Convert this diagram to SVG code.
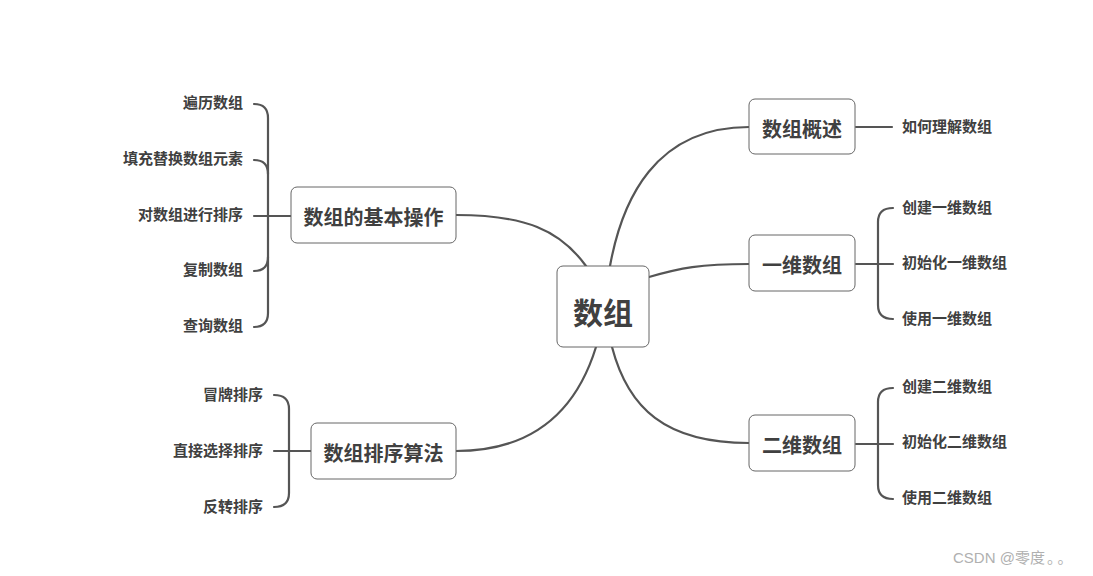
<svg xmlns="http://www.w3.org/2000/svg" width="1093" height="576" viewBox="0 0 1093 576">
<style>
.node rect{fill:#fff;stroke:#666;stroke-width:1}
.t{font-family:"Noto Sans CJK SC","Liberation Sans",sans-serif;font-weight:bold;fill:#404040;dominant-baseline:central}
.big{font-size:30px;text-anchor:middle}
.mid{font-size:20px;text-anchor:middle}
.leaf{font-size:15px}
.r{text-anchor:end}
.conn path{fill:none;stroke:#555;stroke-width:2.2;stroke-linecap:round}
.wm{font-family:"Liberation Sans","Noto Sans CJK SC",sans-serif;font-size:15px;fill:#b0b0b0}
.wmc{font-family:"Noto Sans CJK SC",sans-serif}
</style>
<rect width="1093" height="576" fill="#fff"/>
<g id="connectors" class="conn">
<path d="M610,266 C622,200 655,127 749,127"/>
<path d="M649,277 C680,268 700,264 749,264"/>
<path d="M612,347 C628,408 665,443 749,443"/>
<path d="M586,266 C560,230 525,215 456,215"/>
<path d="M596,347 C575,415 530,451 456,451"/>
<path d="M291,216 L254,216"/>
<path d="M254,104 Q268,104 268,118 L268,313 Q268,327 254,327"/>
<path d="M254,160 Q268,160 268,174"/>
<path d="M254,271 Q268,271 268,257"/>
<path d="M311,451 L274,451"/>
<path d="M274,395 Q289,395 289,409 L289,493 Q289,507 274,507"/>
<path d="M856,127 L892,127"/>
<path d="M856,264 L893,264"/>
<path d="M893,208 Q878,208 878,222 L878,305 Q878,319 893,319"/>
<path d="M856,444 L893,444"/>
<path d="M893,388 Q878,388 878,402 L878,485 Q878,499 893,499"/>
</g>
<g id="center" class="node"><rect x="557" y="266" width="92" height="81" rx="6"/><text class="t big" x="603" y="311">数组</text></g>
<g id="basic" class="node"><rect x="291" y="187" width="165" height="56" rx="6"/><text class="t mid" x="373.5" y="216">数组的基本操作</text></g>
<g id="sort" class="node"><rect x="311" y="423" width="145" height="56" rx="6"/><text class="t mid" x="383.5" y="452">数组排序算法</text></g>
<g id="overview" class="node"><rect x="749" y="99" width="106" height="55" rx="6"/><text class="t mid" x="802" y="128">数组概述</text></g>
<g id="one" class="node"><rect x="749" y="235" width="106" height="56" rx="6"/><text class="t mid" x="802" y="264">一维数组</text></g>
<g id="two" class="node"><rect x="749" y="415" width="106" height="56" rx="6"/><text class="t mid" x="802" y="444">二维数组</text></g>
<g id="leaves">
<text class="t leaf r" x="243" y="101">遍历数组</text>
<text class="t leaf r" x="243" y="157">填充替换数组元素</text>
<text class="t leaf r" x="243" y="213">对数组进行排序</text>
<text class="t leaf r" x="243" y="268">复制数组</text>
<text class="t leaf r" x="243" y="324">查询数组</text>
<text class="t leaf r" x="263" y="393">冒牌排序</text>
<text class="t leaf r" x="263" y="449">直接选择排序</text>
<text class="t leaf r" x="263" y="505">反转排序</text>
<text class="t leaf" x="902" y="125">如何理解数组</text>
<text class="t leaf" x="902" y="206">创建一维数组</text>
<text class="t leaf" x="902" y="261">初始化一维数组</text>
<text class="t leaf" x="902" y="317">使用一维数组</text>
<text class="t leaf" x="902" y="385">创建二维数组</text>
<text class="t leaf" x="902" y="440">初始化二维数组</text>
<text class="t leaf" x="902" y="496">使用二维数组</text>
</g>
<text class="wm" x="953" y="563">CSDN @<tspan class="wmc">零度<tspan dx="2">。</tspan><tspan dx="3">。</tspan></tspan></text>
</svg>
